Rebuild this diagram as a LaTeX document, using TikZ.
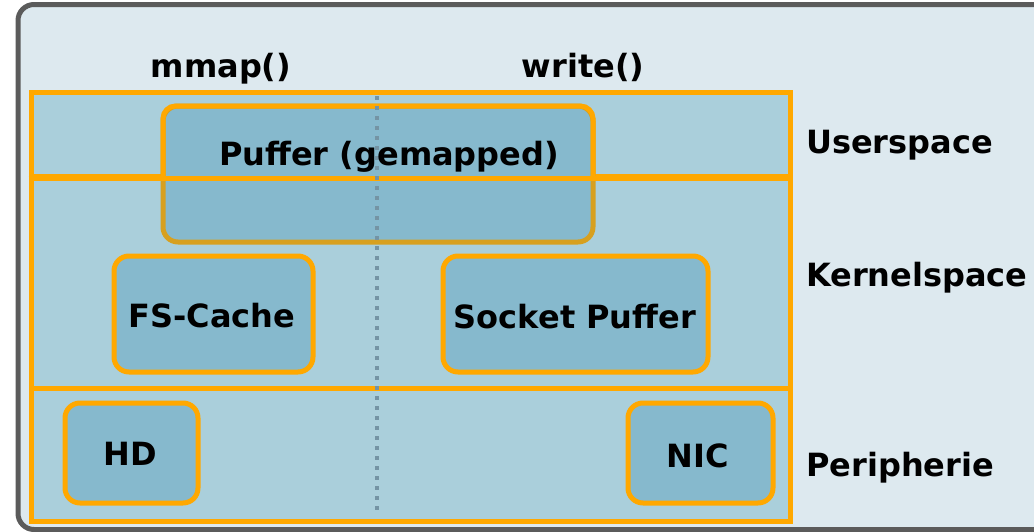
\documentclass[tikz,border=0pt]{standalone}
\usepackage{fontspec}
\setmainfont{DejaVu Sans}
\definecolor{rahmen}{HTML}{5B5B5B}
\definecolor{hintergrund}{HTML}{DDE9EF}
\definecolor{schicht}{HTML}{AACFDB}
\definecolor{kasten}{HTML}{86B9CD}
\definecolor{orange}{HTML}{FFA800}
\definecolor{gold}{HTML}{D7A01F}
\definecolor{punkte}{HTML}{7494A4}
\begin{document}
\begin{tikzpicture}[
        x=1pt, y=-1pt,
        layer/.style={
            rectangle,
            draw=orange,
            fill=schicht,
            line width=5pt,
            minimum width=759pt,
            inner sep=0pt
        },
        box/.style={
            rectangle,
            rounded corners=15pt,
            draw=orange,
            fill=kasten,
            line width=5pt,
            inner sep=0pt
        },
        caption/.style={
            font=\bfseries\fontsize{32}{36}\selectfont,
            inner sep=0pt,
            anchor=base
        }
    ]

    \useasboundingbox (0,0) rectangle (1034,531);
    \clip (0,0) rectangle (1034,531);

    % Rahmen
    \node[draw=rahmen, fill=hintergrund, line width=5pt,
          rounded corners=16pt, minimum width=1060pt,
          minimum height=525pt, inner sep=0pt]
        (frame) at (548,267) {};

    % Schichten
    \node[layer, minimum height=212pt] (kernel) at (410.5,282) {};
    \node[layer, minimum height=133pt] (periph) at (410.5,454.5) {};
    \node[layer, minimum height=84pt] (user) at (410.5,134) {};

    % Kaesten
    \node[box, minimum width=199pt, minimum height=116pt]
        (fscache) at (213.5,314) {};
    \node[box, minimum width=265pt, minimum height=116pt]
        (socket) at (575.5,314) {};
    \node[box, minimum width=133pt, minimum height=100pt]
        (hd) at (131.5,453) {};
    \node[box, minimum width=145pt, minimum height=100pt]
        (nic) at (700.5,453) {};
    \node[box, draw=gold, minimum width=430pt, minimum height=136pt]
        (puffer) at (378,174) {};

    % oberer Teil des gemappten Puffers
    \begin{scope}
        \clip (150,90) rectangle (610,176);
        \draw[orange, line width=5pt, rounded corners=12.5pt]
            ([shift={(2.5,2.5)}]puffer.north west)
            rectangle ([shift={(-2.5,-2.5)}]puffer.south east);
    \end{scope}
    \draw[orange, line width=5pt] (user.south west) -- (user.south east);

    % Trennlinie mmap / write
    \coordinate (top) at (377,96);
    \coordinate (bottom) at (377,516);
    \draw[punkte, line width=3.5pt, dash pattern=on 3.5pt off 6.5pt] (top) -- (bottom);

    % Beschriftungen
    \node[caption] (pufferlabel) at (389,165) {Puffer (gemapped)};
    \node[caption] (fslabel) at (212,327) {FS-Cache};
    \node[caption] (socketlabel) at (575,328) {Socket Puffer};
    \node[caption] (hdlabel) at (130,465) {HD};
    \node[caption] (niclabel) at (698,467) {NIC};
    \node[caption] (mmap) at (221,77) {mmap()};
    \node[caption] (write) at (583,77) {write()};
    \node[caption, anchor=base west] (userspace) at (806,153) {Userspace};
    \node[caption, anchor=base west] (kernelspace) at (806,286) {Kernelspace};
    \node[caption, anchor=base west] (peripherie) at (806,476) {Peripherie};

    \end{tikzpicture}
\end{document}
